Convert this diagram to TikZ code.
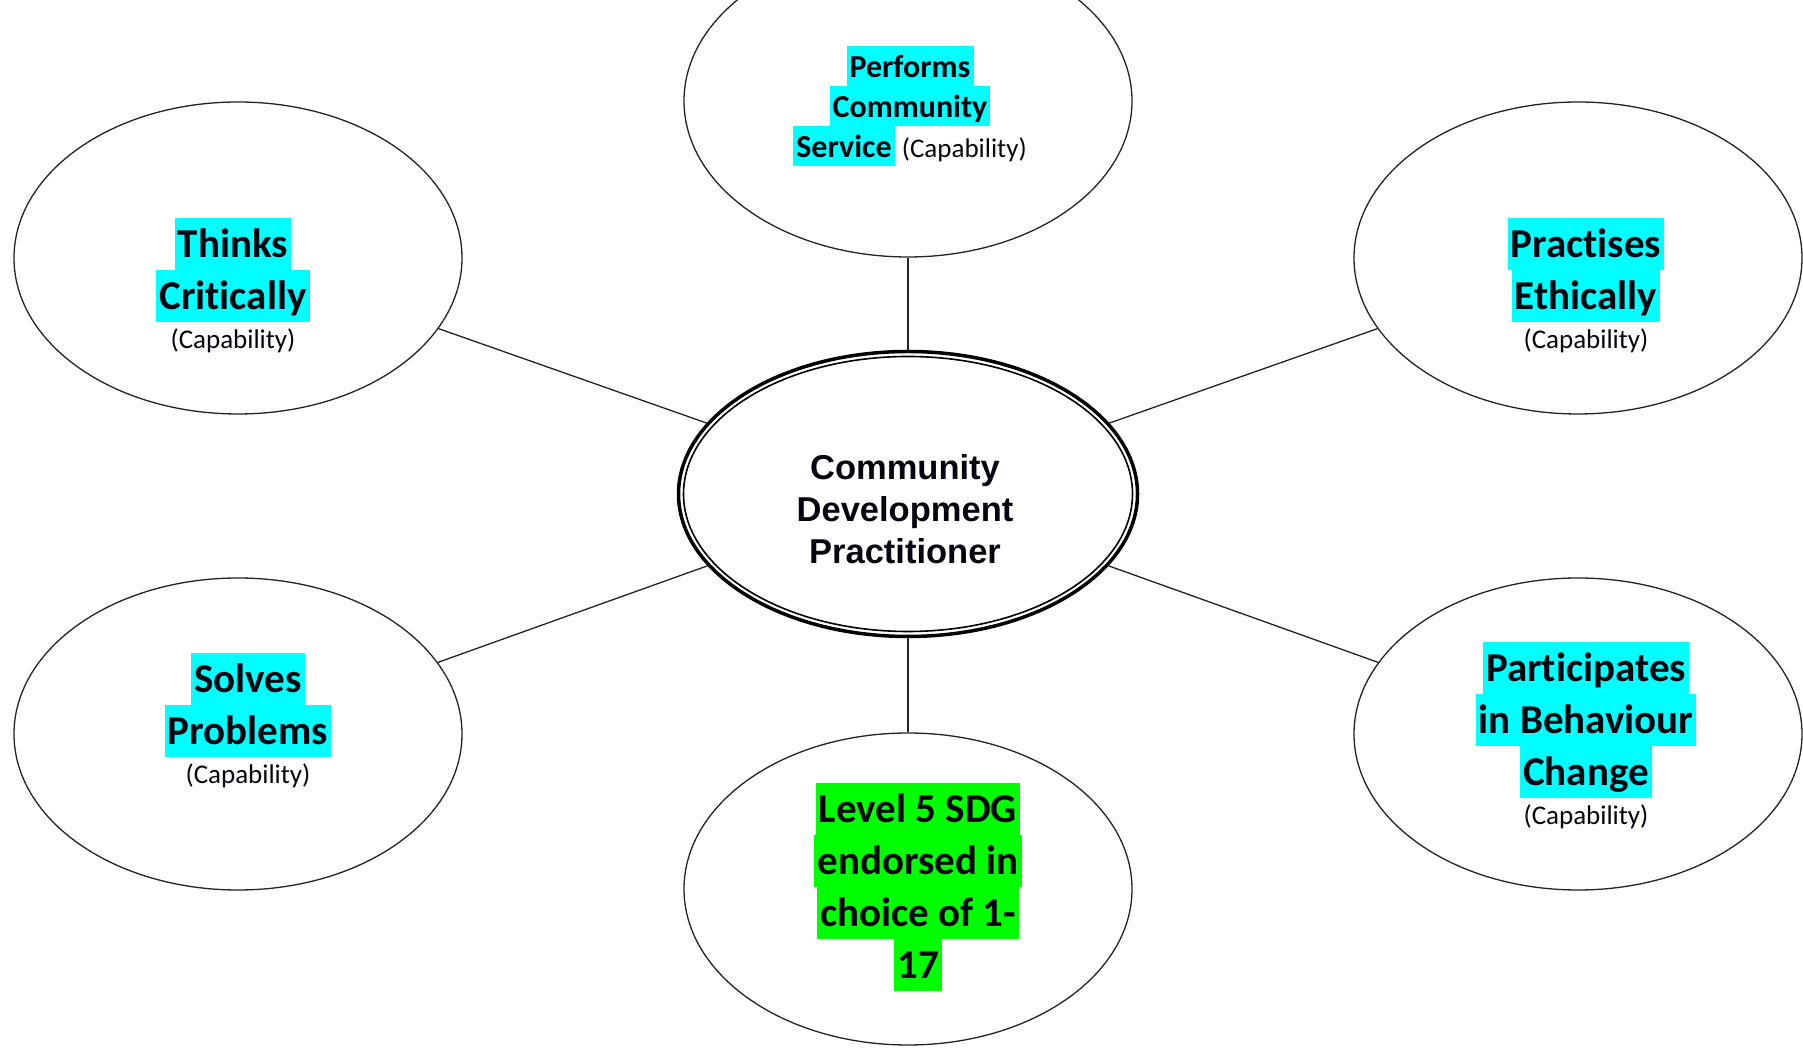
\documentclass[tikz,border=0pt]{standalone}
\usepackage{fontspec}
\setmainfont{Carlito}[Ligatures=CommonOff, RawFeature={-calt;-dlig}]
\newfontfamily\arialf{Liberation Sans}
\usetikzlibrary{shapes.geometric}
\definecolor{hcyan}{RGB}{0,255,255}
\definecolor{hgreen}{RGB}{0,255,0}
\definecolor{edgec}{RGB}{35,35,35}
\definecolor{txt}{RGB}{5,5,15}
\newcommand\hlbox[4]{{\setlength{\fboxsep}{0pt}\colorbox{#1}{\rule[-#3]{0pt}{\dimexpr #2+#3\relax}\hspace{3pt}#4\hspace{3pt}}}}
\newcommand\bigcy[1]{\hlbox{hcyan}{39pt}{13pt}{#1}}
\newcommand\grn[1]{\hlbox{hgreen}{39pt}{13pt}{#1}}
\newcommand\smcy[1]{\hlbox{hcyan}{31pt}{9pt}{#1}}
\newcommand\capln{{\mdseries\fontsize{27}{0}\selectfont\rule[-8pt]{0pt}{34pt}(Capability)}}
\newcommand\capinl{{\mdseries\fontsize{27}{0}\selectfont(Capability)}}
\newcommand\ctrline[1]{\rule[-12pt]{0pt}{42pt}#1}
\newcommand\capfont{\fontsize{41}{0}\selectfont\bfseries\lineskip=0pt\lineskiplimit=0pt}
\newcommand\perffont{\fontsize{32}{0}\selectfont\bfseries\lineskip=0pt\lineskiplimit=0pt}
\newcommand\ctrfont{\arialf\bfseries\fontsize{34.5}{0}\selectfont\lineskip=0pt\lineskiplimit=0pt}
\tikzset{
  bub/.style={draw=edgec, line width=1.3pt, ellipse, minimum width=448pt, minimum height=312pt, inner sep=0pt},
  ctr/.style={draw=black, line width=3.5pt, ellipse, minimum width=459pt, minimum height=285pt, inner sep=0pt},
  conn/.style={draw=edgec, line width=1.3pt},
  captext/.style={anchor=north, align=center, inner sep=0pt, text=txt, font=\capfont},
  perftext/.style={anchor=north, align=center, inner sep=0pt, text=txt, font=\perffont},
  ctrtext/.style={anchor=north, align=center, inner sep=0pt, text=txt, font=\ctrfont}
}
\begin{document}
\begin{tikzpicture}[x=1pt,y=1pt]
\useasboundingbox (0,0) rectangle (1803,1048);
\clip (0,0) rectangle (1803,1048);
\fill[white] (0,0) rectangle (1803,1048);
% ellipses
\node[bub] (top) at (908,947) {};
\node[bub] (tl) at (238,790) {};
\node[bub] (tr) at (1578,790) {};
\node[bub] (bl) at (238,314) {};
\node[bub] (br) at (1578,314) {};
\node[bub] (bot) at (908,159) {};
\node[ctr] (c) at (908,554) {};
\draw[line width=1.6pt, black] (c.center) ellipse [x radius=224.5, y radius=137.5];
% connectors
\draw[conn] (top) -- (c);
\draw[conn] (bot) -- (c);
\draw[conn] (tl) -- (c);
\draw[conn] (tr) -- (c);
\draw[conn] (bl) -- (c);
\draw[conn] (br) -- (c);
% texts
\node[ctrtext] (ctxt) at (905,599) {\ctrline{Community}\\\ctrline{Development}\\\ctrline{Practitioner}};
\node[perftext] (ttop) at (910,1002) {\smcy{Performs}\\\smcy{Community}\\\smcy{Service} \capinl};
\node[captext] (ttl) at (233,830) {\bigcy{Thinks}\\\bigcy{Critically}\\\capln};
\node[captext] (ttr) at (1586,830) {\bigcy{Practises}\\\bigcy{Ethically}\\\capln};
\node[captext] (tbl) at (248,395) {\bigcy{Solves}\\\bigcy{Problems}\\\capln};
\node[captext] (tbr) at (1586,406) {\bigcy{Participates}\\\bigcy{in Behaviour}\\\bigcy{Change}\\\capln};
\node[captext] (tbot) at (918,265) {\grn{Level 5 SDG}\\\grn{endorsed in}\\\grn{choice of 1-}\\\grn{17}};
\end{tikzpicture}
\end{document}
